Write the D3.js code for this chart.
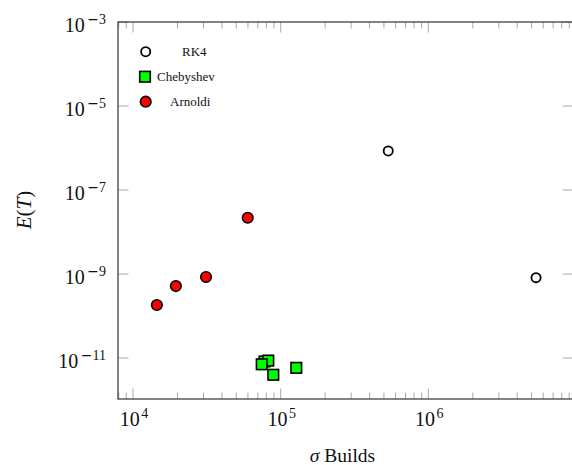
<!DOCTYPE html>
<html>
<head>
<meta charset="utf-8">
<script src="https://cdn.jsdelivr.net/npm/d3@7"></script>
<style>
  body { margin: 0; background: #fff; }
  text { font-family: "Liberation Serif", "DejaVu Serif", serif; fill: #111; }
  .minus { font-family: "DejaVu Serif", serif; }
</style>
</head>
<body>
<script>
// values
const rk4Builds = [5.35e5, 5.36e6];
const rk4Error = [8.5e-7, 8.2e-10];

const chebBuilds = [7.77e4, 8.24e4, 7.44e4, 8.91e4, 1.275e5];
const chebError = [8.3e-12, 8.7e-12, 7.1e-12, 4.0e-12, 5.85e-12];

const arnBuilds = [1.45e4, 1.95e4, 3.12e4, 5.98e4];
const arnError = [1.83e-10, 5.18e-10, 8.5e-10, 2.19e-8];

const legendNames = ["RK4", "Chebyshev", "Arnoldi"];
const xTickExps = [4, 5, 6];
const yTickExps = [-3, -5, -7, -9, -11];

const width = 572;
const height = 465;
const margin = { top: 22, right: -1, bottom: 66, left: 118 };
const plotW = width - margin.left - margin.right;
const plotH = height - margin.top - margin.bottom;

const svg = d3
  .select("body")
  .append("svg")
  .attr("width", width)
  .attr("height", height);

const x = d3.scaleLog().domain([7.91e3, 9.54e6]).range([0, plotW]);
const y = d3.scaleLog().domain([1.06e-12, 1e-3]).range([plotH, 0]);

const g = svg
  .append("g")
  .attr("transform", `translate(${margin.left},${margin.top})`);

// minor x ticks (2..9 in each decade)
const minorX = [];
for (let e = 3; e <= 6; e++) {
  for (let m = 2; m <= 9; m++) {
    const v = m * Math.pow(10, e);
    if (v >= x.domain()[0] && v <= x.domain()[1]) minorX.push(v);
  }
}
const majorX = xTickExps.map((e) => Math.pow(10, e));
const majorY = yTickExps.map((e) => Math.pow(10, e));

const tickColor = "#aaa";

// bottom + top ticks
[plotH, 0].forEach((base) => {
  const dir = base === 0 ? 1 : -1;
  g.selectAll(null)
    .data(minorX)
    .join("line")
    .attr("x1", (d) => x(d))
    .attr("x2", (d) => x(d))
    .attr("y1", base)
    .attr("y2", base + dir * 6.5)
    .attr("stroke", tickColor)
    .attr("stroke-width", 1);
  g.selectAll(null)
    .data(majorX)
    .join("line")
    .attr("x1", (d) => x(d))
    .attr("x2", (d) => x(d))
    .attr("y1", base)
    .attr("y2", base + dir * 10.5)
    .attr("stroke", tickColor)
    .attr("stroke-width", 1);
});

// left + right ticks
[0, plotW].forEach((base) => {
  const dir = base === 0 ? 1 : -1;
  g.selectAll(null)
    .data(majorY)
    .join("line")
    .attr("y1", (d) => y(d))
    .attr("y2", (d) => y(d))
    .attr("x1", base)
    .attr("x2", base + dir * 10.5)
    .attr("stroke", tickColor)
    .attr("stroke-width", 1);
});

// frame
g.append("rect")
  .attr("x", 0)
  .attr("y", 0)
  .attr("width", plotW)
  .attr("height", plotH)
  .attr("fill", "none")
  .attr("stroke", "#333")
  .attr("stroke-width", 1.2);

// x tick labels 10^n
const xLab = g
  .selectAll("text.xtick")
  .data(xTickExps)
  .join("text")
  .attr("class", "xtick")
  .attr("x", (d) => x(Math.pow(10, d)) + 1)
  .attr("y", plotH + 27)
  .attr("text-anchor", "middle")
  .attr("font-size", 20);
xLab.append("tspan").text("10");
xLab
  .append("tspan")
  .attr("dx", 1.5)
  .attr("dy", -8)
  .attr("font-size", 14)
  .text((d) => d);

// y tick labels 10^-n
const yLab = g
  .selectAll("text.ytick")
  .data(yTickExps)
  .join("text")
  .attr("class", "ytick")
  .attr("x", -12)
  .attr("y", (d) => y(Math.pow(10, d)) + 9.7)
  .attr("text-anchor", "end")
  .attr("font-size", 20);
yLab.append("tspan").text("10");
yLab
  .append("tspan")
  .attr("class", "minus")
  .attr("dx", 2.5)
  .attr("dy", -8)
  .attr("font-size", 14)
  .text("\u2212");
yLab
  .append("tspan")
  .attr("font-size", 14)
  .text((d) => Math.abs(d));

// axis titles
const xt = svg
  .append("text")
  .attr("x", margin.left + plotW / 2 - 3)
  .attr("y", 462)
  .attr("text-anchor", "middle")
  .attr("font-size", 19.5);
xt.append("tspan").attr("font-style", "italic").text("\u03c3");
xt.append("tspan").text(" Builds");

const yt = svg
  .append("text")
  .attr("transform", "translate(31,210) rotate(-90)")
  .attr("text-anchor", "middle")
  .attr("font-size", 21);
yt.append("tspan").attr("font-style", "italic").text("E");
yt.append("tspan").text("(");
yt.append("tspan").attr("font-style", "italic").text("T");
yt.append("tspan").text(")");

// markers
const zip = (a, b) => a.map((v, i) => [v, b[i]]);

g.selectAll("circle.rk4")
  .data(zip(rk4Builds, rk4Error))
  .join("circle")
  .attr("class", "rk4")
  .attr("cx", (d) => x(d[0]))
  .attr("cy", (d) => y(d[1]))
  .attr("r", 4.6)
  .attr("fill", "#fff")
  .attr("stroke", "#000")
  .attr("stroke-width", 1.8);

g.selectAll("rect.cheb")
  .data(zip(chebBuilds, chebError))
  .join("rect")
  .attr("class", "cheb")
  .attr("x", (d) => x(d[0]) - 5.3)
  .attr("y", (d) => y(d[1]) - 5.3)
  .attr("width", 10.6)
  .attr("height", 10.6)
  .attr("fill", "#00ff00")
  .attr("stroke", "#000")
  .attr("stroke-width", 1.6);

g.selectAll("circle.arn")
  .data(zip(arnBuilds, arnError))
  .join("circle")
  .attr("class", "arn")
  .attr("cx", (d) => x(d[0]))
  .attr("cy", (d) => y(d[1]))
  .attr("r", 5.3)
  .attr("fill", "#ff0000")
  .attr("stroke", "#000")
  .attr("stroke-width", 1.6);

// legend
const legY = [51.7, 76.7, 101.7];
const legTextX = [182, 157, 170];
legendNames.forEach((name, i) => {
  if (i === 1) {
    svg
      .append("rect")
      .attr("x", 145 - 5.3)
      .attr("y", legY[i] - 5.3)
      .attr("width", 10.6)
      .attr("height", 10.6)
      .attr("fill", "#00ff00")
      .attr("stroke", "#000")
      .attr("stroke-width", 1.6);
  } else {
    svg
      .append("circle")
      .attr("cx", 145.7)
      .attr("cy", legY[i])
      .attr("r", i === 0 ? 4.6 : 5.3)
      .attr("fill", i === 0 ? "#fff" : "#ff0000")
      .attr("stroke", "#000")
      .attr("stroke-width", i === 0 ? 1.8 : 1.6);
  }
  svg
    .append("text")
    .attr("x", legTextX[i])
    .attr("y", legY[i] + 4.5)
    .attr("font-size", 13)
    .text(name);
});
</script>
</body>
</html>
